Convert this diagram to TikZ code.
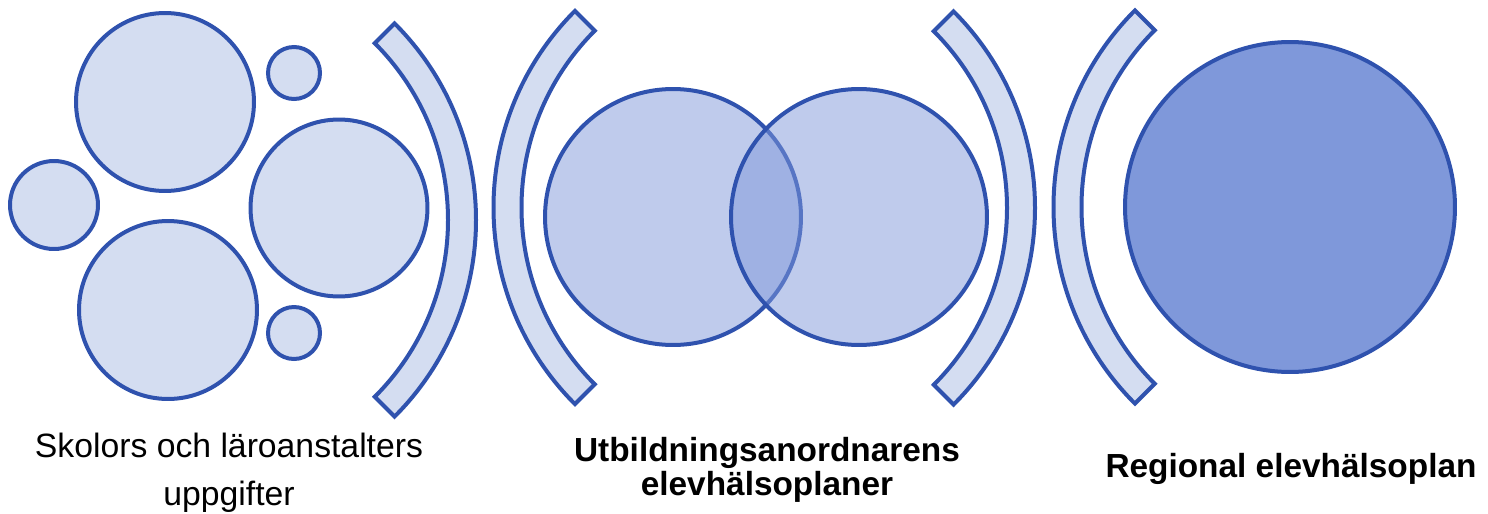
\documentclass[tikz,border=0pt]{standalone}
\usepackage{fontspec}
\setmainfont{Liberation Sans}
\usepackage{xcolor}
\usepackage{tikz}
\usetikzlibrary{positioning}
\definecolor{cblue}{HTML}{2F52AE}
\definecolor{clight}{HTML}{D4DDF1}
\definecolor{cmid}{HTML}{7F98DA}
\tikzset{
  cbub/.style ={circle, draw=cblue, fill=clight, line width=0.08cm, inner sep=0pt},
  cven/.style ={cbub, fill=cmid, fill opacity=0.5},
  creg/.style ={cbub, fill=cmid},
  cbrk/.style ={draw=cblue, fill=clight, line width=0.08cm, line join=miter},
  clab/.style ={align=center, inner sep=0pt, text=black, anchor=base},
}

\begin{document}
\begin{tikzpicture}[x=0.02cm, y=-0.02cm]
\useasboundingbox (0,0) rectangle (1488,514);

\node[cbub, minimum size=3.56cm] (top) at (165,102) {};
\node[cbub, minimum size=1.04cm] (sTop) at (294,73) {};
\node[cbub, minimum size=1.76cm] (lft) at (54,205) {};
\node[cbub, minimum size=3.54cm] (mid) at (339,208) {};
\node[cbub, minimum size=3.56cm] (bot) at (168,310) {};
\node[cbub, minimum size=1.04cm] (sBot) at (294,333) {};

\foreach \cx/\cy/\s/\e in {198/220/-45/45, 771.5/207.5/135/225, 757/208/-45/45, 1331.5/207/135/225}
  \draw[cbrk] ([shift={(\s:278)}]\cx,\cy) arc[start angle=\s, end angle=\e, radius=278]
    -- ([shift={(\e:250)}]\cx,\cy) arc[start angle=\e, end angle=\s, radius=250] -- cycle;

\node[cven, minimum size=5.12cm] (venL) at (673,217) {};
\node[cven, minimum size=5.12cm] (venR) at (859,217) {};

\node[creg, minimum size=6.6cm] (reg) at (1290,207) {};

\node[clab, font=\fontsize{19.2}{27.2}\selectfont] (lSkol) at (229,505)
  {Skolors och läroanstalters\\uppgifter};
\node[clab, font=\fontsize{19}{18.8}\selectfont\bfseries] (lUtb) at (767,495)
  {Utbildningsanordnarens\\elevhälsoplaner};
\node[clab, font=\fontsize{19}{19}\selectfont\bfseries] (lReg) at (1291,477)
  {Regional elevhälsoplan};

\end{tikzpicture}
\end{document}
